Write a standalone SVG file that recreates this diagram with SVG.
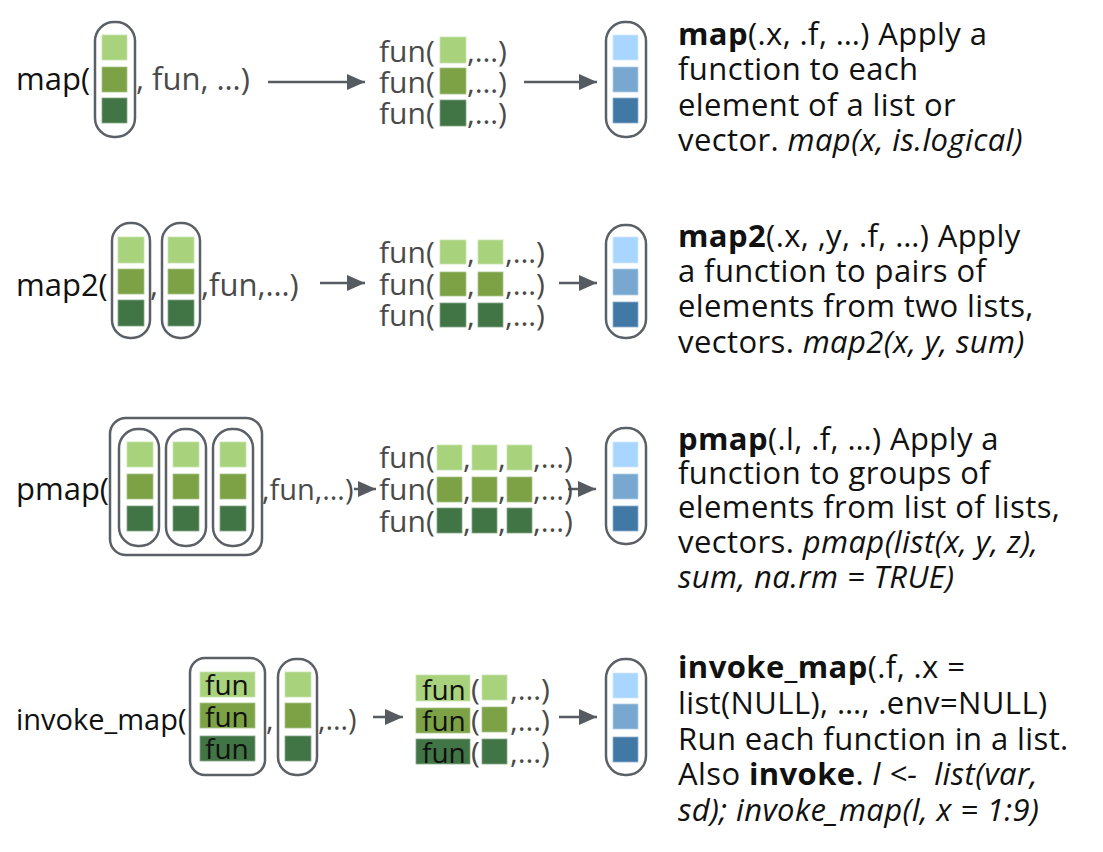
<svg xmlns="http://www.w3.org/2000/svg" width="1103" height="852" viewBox="0 0 1103 852">
<defs>
<style>
text{font-family:"Open Sans","Noto Sans","Liberation Sans",sans-serif;}
.lbl{font-size:31px;fill:#111;}
.gr{fill:#4a4a4a;}
.mid{font-size:30px;fill:#4a4a4a;}
.fn{font-size:28px;fill:#111;}
.desc{font-size:31px;fill:#111;letter-spacing:0.4px;}
.b{font-weight:bold;}
.i{font-style:italic;}
.cap{fill:#fff;stroke:#5b6066;stroke-width:2.5;}
.g1{fill:#a9d27d;stroke:#c9e3b0;stroke-width:0.8;}
.g2{fill:#7ca245;stroke:#a8c488;stroke-width:0.8;}
.g3{fill:#417545;stroke:#86a88a;stroke-width:0.8;}
.b1{fill:#a8d6ff;stroke:#d0e8ff;stroke-width:0.8;}
.b2{fill:#78a8d0;stroke:#b0cde6;stroke-width:0.8;}
.b3{fill:#4278a6;stroke:#8fb0cc;stroke-width:0.8;}
.arr{stroke:#555b61;stroke-width:2.5;fill:none;marker-end:url(#ah);}
</style>
<marker id="ah" markerUnits="userSpaceOnUse" markerWidth="18" markerHeight="16" refX="18" refY="8" orient="auto">
<path d="M0,0 L18,8 L0,16 z" fill="#555b61"/>
</marker>
</defs>
<rect width="1103" height="852" fill="#fff"/>

<g id="connectors">
<line class="arr" x1="268" y1="82" x2="365" y2="82"/>
<line class="arr" x1="524" y1="82" x2="597" y2="82"/>
<line class="arr" x1="320" y1="283" x2="365" y2="283"/>
<line class="arr" x1="559" y1="283" x2="597" y2="283"/>
<line class="arr" x1="354" y1="489" x2="376" y2="489"/>
<line class="arr" x1="568" y1="489" x2="596" y2="489"/>
<line class="arr" x1="373" y1="717" x2="403" y2="717"/>
<line class="arr" x1="559" y1="717" x2="597" y2="717"/>
</g>

<!-- Row 1: map -->
<g id="map-input">
<text class="lbl" x="16" y="90">map(</text>
<rect class="cap" x="95" y="22" width="40" height="115" rx="19"/>
<rect class="g1" x="102" y="35" width="25" height="25"/>
<rect class="g2" x="102" y="67" width="25" height="25"/>
<rect class="g3" x="102" y="98" width="25" height="25"/>
<text class="lbl gr" x="136" y="90">, fun, …)</text>
</g>
<g id="map-apply">
<text class="mid" x="379" y="62">fun(</text>
<text class="mid" x="379" y="93">fun(</text>
<text class="mid" x="379" y="124">fun(</text>
<rect class="g1" x="440" y="37" width="26" height="26"/>
<rect class="g2" x="440" y="68" width="26" height="26"/>
<rect class="g3" x="440" y="100" width="26" height="26"/>
<text class="mid" x="467" y="62">,…)</text>
<text class="mid" x="467" y="93">,…)</text>
<text class="mid" x="467" y="124">,…)</text>
</g>
<g id="map-output">
<rect class="cap" x="606" y="22" width="40" height="115" rx="19"/>
<rect class="b1" x="613" y="35" width="25" height="25"/>
<rect class="b2" x="613" y="67" width="25" height="25"/>
<rect class="b3" x="613" y="98" width="25" height="25"/>
</g>
<g id="map-desc">
<text class="desc" x="678" y="45"><tspan class="b">map</tspan>(.x, .f, …) Apply a</text>
<text class="desc" x="678" y="80">function to each</text>
<text class="desc" x="678" y="116">element of a list or</text>
<text class="desc" x="678" y="151">vector. <tspan class="i">map(x, is.logical)</tspan></text>
</g>

<!-- Row 2: map2 -->
<g id="map2-input">
<text class="lbl" x="16" y="296">map2(</text>
<rect class="cap" x="112" y="223" width="38" height="115" rx="18"/>
<rect class="g1" x="118" y="237" width="26" height="26"/>
<rect class="g2" x="118" y="269" width="26" height="25"/>
<rect class="g3" x="118" y="300" width="26" height="26"/>
<text class="lbl gr" x="150" y="296">,</text>
<rect class="cap" x="162" y="223" width="38" height="115" rx="18"/>
<rect class="g1" x="168" y="237" width="26" height="26"/>
<rect class="g2" x="168" y="269" width="26" height="25"/>
<rect class="g3" x="168" y="300" width="26" height="26"/>
<text class="lbl gr" x="201" y="296">,fun,…)</text>
</g>
<g id="map2-apply">
<text class="mid" x="379" y="263">fun(</text>
<text class="mid" x="379" y="295">fun(</text>
<text class="mid" x="379" y="326">fun(</text>
<rect class="g1" x="440" y="240" width="26" height="24"/>
<rect class="g2" x="440" y="272" width="26" height="24"/>
<rect class="g3" x="440" y="303" width="26" height="24"/>
<text class="mid" x="467" y="263">,</text>
<text class="mid" x="467" y="295">,</text>
<text class="mid" x="467" y="326">,</text>
<rect class="g1" x="478" y="240" width="25" height="24"/>
<rect class="g2" x="478" y="272" width="25" height="24"/>
<rect class="g3" x="478" y="303" width="25" height="24"/>
<text class="mid" x="505" y="263">,…)</text>
<text class="mid" x="505" y="295">,…)</text>
<text class="mid" x="505" y="326">,…)</text>
</g>
<g id="map2-output">
<rect class="cap" x="606" y="225" width="40" height="113" rx="19"/>
<rect class="b1" x="613" y="237" width="25" height="26"/>
<rect class="b2" x="613" y="269" width="25" height="26"/>
<rect class="b3" x="613" y="302" width="25" height="25"/>
</g>
<g id="map2-desc">
<text class="desc" x="678" y="247"><tspan class="b">map2</tspan>(.x, ,y, .f, …) Apply</text>
<text class="desc" x="678" y="282">a function to pairs of</text>
<text class="desc" x="678" y="317">elements from two lists,</text>
<text class="desc" x="678" y="353">vectors. <tspan class="i">map2(x, y, sum)</tspan></text>
</g>

<!-- Row 3: pmap -->
<g id="pmap-input">
<text class="lbl" x="16" y="500">pmap(</text>
<rect class="cap" x="110" y="418" width="152" height="137" rx="16"/>
<rect class="cap" x="119" y="429" width="40" height="117" rx="19"/>
<rect class="cap" x="166" y="429" width="40" height="117" rx="19"/>
<rect class="cap" x="213" y="429" width="40" height="117" rx="19"/>
<rect class="g1" x="127" y="442" width="26" height="25"/>
<rect class="g2" x="127" y="474" width="26" height="25"/>
<rect class="g3" x="127" y="506" width="26" height="25"/>
<rect class="g1" x="173" y="442" width="26" height="25"/>
<rect class="g2" x="173" y="474" width="26" height="25"/>
<rect class="g3" x="173" y="506" width="26" height="25"/>
<rect class="g1" x="220" y="442" width="26" height="25"/>
<rect class="g2" x="220" y="474" width="26" height="25"/>
<rect class="g3" x="220" y="506" width="26" height="25"/>
<text class="lbl gr" x="262" y="500" style="font-size:29px">,fun,…)</text>
</g>
<g id="pmap-apply">
<text class="mid" x="379" y="468">fun(</text>
<text class="mid" x="379" y="500">fun(</text>
<text class="mid" x="379" y="532">fun(</text>
<rect class="g1" x="437" y="445" width="25" height="25"/>
<rect class="g2" x="437" y="477" width="25" height="25"/>
<rect class="g3" x="437" y="508" width="25" height="25"/>
<text class="mid" x="463" y="468">,</text>
<text class="mid" x="463" y="500">,</text>
<text class="mid" x="463" y="532">,</text>
<rect class="g1" x="472" y="445" width="25" height="25"/>
<rect class="g2" x="472" y="477" width="25" height="25"/>
<rect class="g3" x="472" y="508" width="25" height="25"/>
<text class="mid" x="498" y="468">,</text>
<text class="mid" x="498" y="500">,</text>
<text class="mid" x="498" y="532">,</text>
<rect class="g1" x="507" y="445" width="25" height="25"/>
<rect class="g2" x="507" y="477" width="25" height="25"/>
<rect class="g3" x="507" y="508" width="25" height="25"/>
<text class="mid" x="533" y="468">,…)</text>
<text class="mid" x="533" y="500">,…)</text>
<text class="mid" x="533" y="532">,…)</text>
</g>
<g id="pmap-output">
<rect class="cap" x="606" y="428" width="40" height="116" rx="19"/>
<rect class="b1" x="613" y="442" width="25" height="25"/>
<rect class="b2" x="613" y="474" width="25" height="25"/>
<rect class="b3" x="613" y="506" width="25" height="25"/>
</g>
<g id="pmap-desc">
<text class="desc" x="678" y="450"><tspan class="b">pmap</tspan>(.l, .f, …) Apply a</text>
<text class="desc" x="678" y="484">function to groups of</text>
<text class="desc" x="678" y="518">elements from list of lists,</text>
<text class="desc" x="678" y="553">vectors. <tspan class="i">pmap(list(x, y, z),</tspan></text>
<text class="desc i" x="678" y="588">sum, na.rm = TRUE)</text>
</g>

<!-- Row 4: invoke_map -->
<g id="invoke-input">
<text class="lbl" x="16" y="730" style="font-size:29px">invoke_map(</text>
<rect class="cap" x="190" y="658" width="75" height="117" rx="15"/>
<rect class="g1" x="200" y="672" width="55" height="25"/>
<rect class="g2" x="200" y="703" width="55" height="25"/>
<rect class="g3" x="200" y="736" width="55" height="25"/>
<text class="fn" x="205" y="695">fun</text>
<text class="fn" x="205" y="727">fun</text>
<text class="fn" x="205" y="759">fun</text>
<text class="lbl gr" x="266" y="730" style="font-size:29px">,</text>
<rect class="cap" x="278" y="659" width="39" height="116" rx="18"/>
<rect class="g1" x="285" y="672" width="26" height="25"/>
<rect class="g2" x="285" y="703" width="26" height="25"/>
<rect class="g3" x="285" y="736" width="26" height="25"/>
<text class="lbl gr" x="318" y="730" style="font-size:29px">,…)</text>
</g>
<g id="invoke-apply">
<rect class="g1" x="416" y="675" width="54" height="26"/>
<rect class="g2" x="416" y="708" width="54" height="25"/>
<rect class="g3" x="416" y="739" width="54" height="25"/>
<text class="fn" x="422" y="700">fun</text>
<text class="fn" x="422" y="731">fun</text>
<text class="fn" x="422" y="763">fun</text>
<text class="mid" x="471" y="700">(</text>
<text class="mid" x="471" y="731">(</text>
<text class="mid" x="471" y="763">(</text>
<rect class="g1" x="482" y="675" width="25" height="25"/>
<rect class="g2" x="482" y="707" width="25" height="25"/>
<rect class="g3" x="482" y="739" width="25" height="25"/>
<text class="mid" x="510" y="700">,…)</text>
<text class="mid" x="510" y="731">,…)</text>
<text class="mid" x="510" y="763">,…)</text>
</g>
<g id="invoke-output">
<rect class="cap" x="606" y="659" width="40" height="116" rx="19"/>
<rect class="b1" x="613" y="673" width="25" height="25"/>
<rect class="b2" x="613" y="704" width="25" height="25"/>
<rect class="b3" x="613" y="737" width="25" height="25"/>
</g>
<g id="invoke-desc">
<text class="desc" x="678" y="678"><tspan class="b">invoke_map</tspan>(.f, .x =</text>
<text class="desc" x="678" y="714">list(NULL), …, .env=NULL)</text>
<text class="desc" x="678" y="750">Run each function in a list.</text>
<text class="desc" x="678" y="785" xml:space="preserve">Also <tspan class="b">invoke</tspan>. <tspan class="i">l &lt;-  list(var,</tspan></text>
<text class="desc i" x="678" y="821">sd); invoke_map(l, x = 1:9)</text>
</g>
</svg>
